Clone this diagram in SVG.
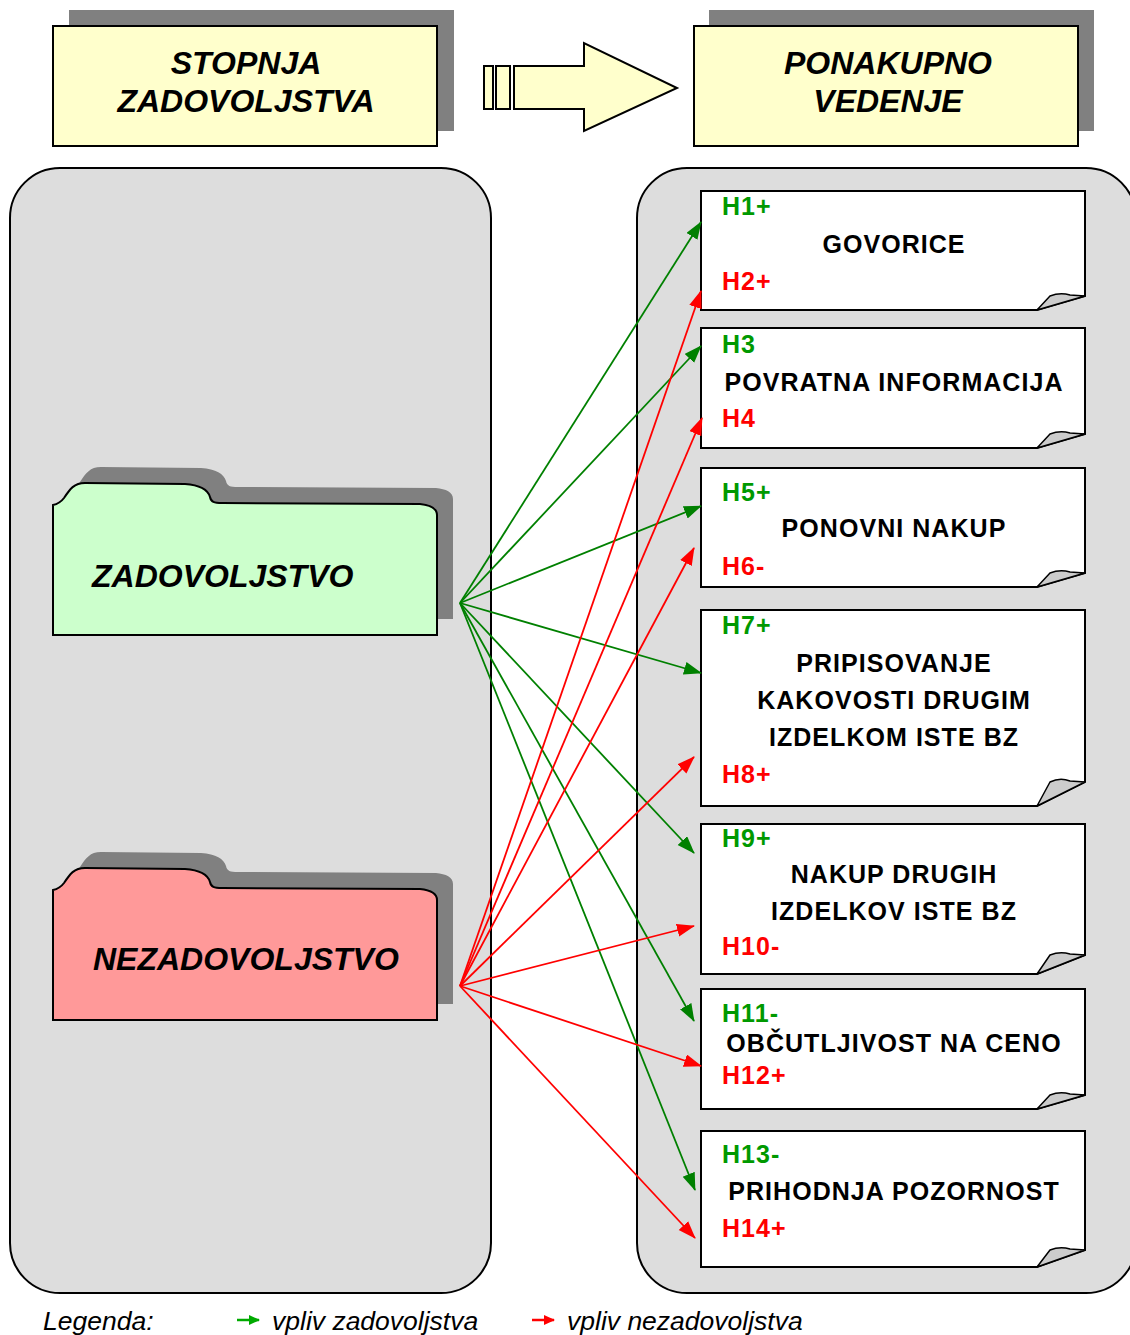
<svg xmlns="http://www.w3.org/2000/svg" width="1130" height="1335" viewBox="0 0 1130 1335">
<style>
.hdr{fill:#ffffcc;stroke:#000;stroke-width:2}
.shd{fill:#808080}
.htxt{font-family:"Liberation Sans",Arial,sans-serif;font-weight:bold;font-style:italic;font-size:32px;fill:#000;text-anchor:middle}
.panel{fill:#dddddd;stroke:#000;stroke-width:2}
.note{fill:#fff;stroke:#000;stroke-width:2}
.curl{fill:#cccccc;stroke:#000;stroke-width:1.5;stroke-linejoin:round}
.t{font-family:"Liberation Sans",Arial,sans-serif;font-weight:bold;font-size:25px;letter-spacing:1.05px}
.c{text-anchor:middle;fill:#000}
.g{fill:#009900}
.r{fill:#ff0000}
.ftxt{font-family:"Liberation Sans",Arial,sans-serif;font-weight:bold;font-style:italic;font-size:32px;fill:#000}
.lg{font-family:"Liberation Sans",Arial,sans-serif;font-style:italic;font-size:26.5px;fill:#000}
.gl{stroke:#008000;stroke-width:1.8;fill:none;marker-end:url(#ag)}
.rl{stroke:#ff0000;stroke-width:1.8;fill:none;marker-end:url(#ar)}
</style>
<defs>
<marker id="ag" markerUnits="userSpaceOnUse" markerWidth="20" markerHeight="14" refX="17" refY="6.5" orient="auto"><path d="M0,0 L18,6.5 L0,13 z" fill="#008000"/></marker>
<marker id="ar" markerUnits="userSpaceOnUse" markerWidth="20" markerHeight="14" refX="17" refY="6.5" orient="auto"><path d="M0,0 L18,6.5 L0,13 z" fill="#ff0000"/></marker>
<marker id="lgg" markerUnits="userSpaceOnUse" markerWidth="12" markerHeight="12" refX="10" refY="5" orient="auto"><path d="M0,0 L11,5 L0,10 z" fill="#00aa00"/></marker>
<marker id="lgr" markerUnits="userSpaceOnUse" markerWidth="12" markerHeight="12" refX="10" refY="5" orient="auto"><path d="M0,0 L11,5 L0,10 z" fill="#ff0000"/></marker>
<path id="folder" d="M53,505 C58,504 61,502 64,498 C70,489 74,483 85,483 L185,484 C200,485 208,490 210,497 C211,502 214,503 222,503 L420,504 C430,505 437,508 437,515 L437,635 L53,635 Z"/>
</defs>
<rect width="1130" height="1335" fill="#fff"/>

<g id="header-left">
<rect class="shd" x="69" y="10" width="385" height="121"/>
<rect class="hdr" x="53" y="26" width="384" height="120"/>
<text class="htxt" x="246" y="74">STOPNJA</text>
<text class="htxt" x="246" y="112">ZADOVOLJSTVA</text>
</g>

<g id="block-arrow">
<rect class="hdr" x="484" y="66" width="9" height="43"/>
<rect class="hdr" x="496" y="66" width="14" height="43"/>
<path class="hdr" d="M514,66 H584 V43 L677,88 L584,131 V109 H514 Z"/>
</g>

<g id="header-right">
<rect class="shd" x="709" y="10" width="385" height="121"/>
<rect class="hdr" x="694" y="26" width="384" height="120"/>
<text class="htxt" x="888" y="74">PONAKUPNO</text>
<text class="htxt" x="888" y="112">VEDENJE</text>
</g>

<g id="panel-left"><rect class="panel" x="10" y="168" width="481" height="1125" rx="50" ry="50"/></g>
<g id="panel-right"><rect class="panel" x="637" y="168" width="499" height="1125" rx="50" ry="50"/></g>

<g id="zadovoljstvo">
<use href="#folder" class="shd" transform="translate(16,-16)"/>
<use href="#folder" fill="#ccffcc" stroke="#000" stroke-width="2"/>
<text class="ftxt" x="92" y="587">ZADOVOLJSTVO</text>
</g>

<g id="nezadovoljstvo">
<use href="#folder" class="shd" transform="translate(16,369)"/>
<use href="#folder" fill="#ff9999" stroke="#000" stroke-width="2" transform="translate(0,385)"/>
<text class="ftxt" x="93" y="970">NEZADOVOLJSTVO</text>
</g>

<g id="box-govorice">
<path class="note" d="M701,191 H1085 V296 L1037,310 H701 Z"/>
<path class="curl" d="M1037,310 L1050,296 Q1060,292 1070,295 L1085,296 Z"/>
<text class="t g" x="722" y="215">H1+</text>
<text class="t c" x="894" y="253">GOVORICE</text>
<text class="t r" x="722" y="290">H2+</text>
</g>

<g id="box-povratna">
<path class="note" d="M701,328 H1085 V434 L1037,448 H701 Z"/>
<path class="curl" d="M1037,448 L1050,434 Q1060,430 1070,433 L1085,434 Z"/>
<text class="t g" x="722" y="353">H3</text>
<text class="t c" x="894" y="391">POVRATNA INFORMACIJA</text>
<text class="t r" x="722" y="427">H4</text>
</g>

<g id="box-ponovni">
<path class="note" d="M701,468 H1085 V573 L1037,587 H701 Z"/>
<path class="curl" d="M1037,587 L1050,573 Q1060,569 1070,572 L1085,573 Z"/>
<text class="t g" x="722" y="501">H5+</text>
<text class="t c" x="894" y="537">PONOVNI NAKUP</text>
<text class="t r" x="722" y="575">H6-</text>
</g>

<g id="box-pripisovanje">
<path class="note" d="M701,610 H1085 V782 L1037,806 H701 Z"/>
<path class="curl" d="M1037,806 L1050,782 Q1060,777 1070,781 L1085,782 Z"/>
<text class="t g" x="722" y="634">H7+</text>
<text class="t c" x="894" y="672">PRIPISOVANJE</text>
<text class="t c" x="894" y="709">KAKOVOSTI DRUGIM</text>
<text class="t c" x="894" y="746">IZDELKOM ISTE BZ</text>
<text class="t r" x="722" y="783">H8+</text>
</g>

<g id="box-nakup-drugih">
<path class="note" d="M701,824 H1085 V955 L1037,974 H701 Z"/>
<path class="curl" d="M1037,974 L1050,955 Q1060,951 1070,954 L1085,955 Z"/>
<text class="t g" x="722" y="847">H9+</text>
<text class="t c" x="894" y="883">NAKUP DRUGIH</text>
<text class="t c" x="894" y="920">IZDELKOV ISTE BZ</text>
<text class="t r" x="722" y="955">H10-</text>
</g>

<g id="box-obcutljivost">
<path class="note" d="M701,989 H1085 V1095 L1037,1109 H701 Z"/>
<path class="curl" d="M1037,1109 L1050,1095 Q1060,1091 1070,1094 L1085,1095 Z"/>
<text class="t g" x="722" y="1022">H11-</text>
<text class="t c" x="894" y="1052">OBČUTLJIVOST NA CENO</text>
<text class="t r" x="722" y="1084">H12+</text>
</g>

<g id="box-prihodnja">
<path class="note" d="M701,1131 H1085 V1250 L1037,1267 H701 Z"/>
<path class="curl" d="M1037,1267 L1050,1250 Q1060,1246 1070,1249 L1085,1250 Z"/>
<text class="t g" x="722" y="1163">H13-</text>
<text class="t c" x="894" y="1200">PRIHODNJA POZORNOST</text>
<text class="t r" x="722" y="1237">H14+</text>
</g>

<g id="connectors">
<line class="gl" x1="460" y1="603" x2="701" y2="222"/>
<line class="gl" x1="460" y1="603" x2="701" y2="346"/>
<line class="gl" x1="460" y1="603" x2="701" y2="506"/>
<line class="gl" x1="460" y1="603" x2="701" y2="673"/>
<line class="gl" x1="460" y1="603" x2="694" y2="853"/>
<line class="gl" x1="460" y1="603" x2="694" y2="1021"/>
<line class="gl" x1="460" y1="603" x2="695" y2="1190"/>
<line class="rl" x1="460" y1="986" x2="701" y2="291"/>
<line class="rl" x1="460" y1="986" x2="702" y2="418"/>
<line class="rl" x1="460" y1="986" x2="694" y2="548"/>
<line class="rl" x1="460" y1="986" x2="694" y2="757"/>
<line class="rl" x1="460" y1="986" x2="694" y2="926"/>
<line class="rl" x1="460" y1="986" x2="701" y2="1066"/>
<line class="rl" x1="460" y1="986" x2="695" y2="1238"/>
</g>

<g id="legend">
<text class="lg" x="43" y="1330">Legenda:</text>
<line x1="237" y1="1320" x2="259" y2="1320" stroke="#00aa00" stroke-width="2.5" marker-end="url(#lgg)"/>
<text class="lg" x="272" y="1330">vpliv zadovoljstva</text>
<line x1="532" y1="1320" x2="554" y2="1320" stroke="#ff0000" stroke-width="2.5" marker-end="url(#lgr)"/>
<text class="lg" x="567" y="1330">vpliv nezadovoljstva</text>
</g>
</svg>
